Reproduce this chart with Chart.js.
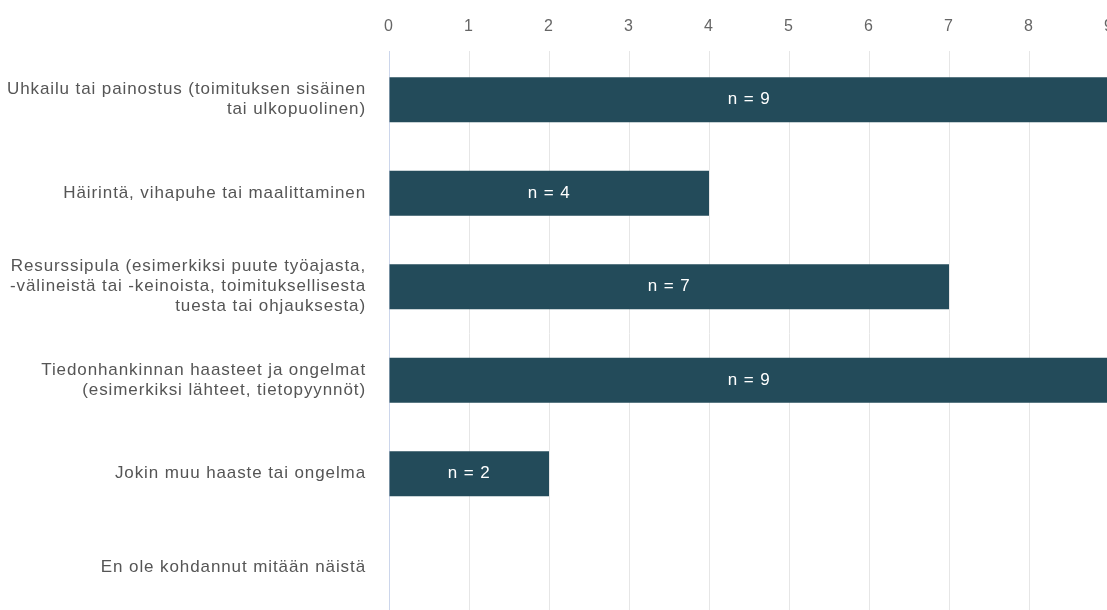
<!DOCTYPE html>
<html lang="fi">

<head>
    <meta charset="UTF-8" />
    <title>Haasteet</title>
    <script src="https://cdn.jsdelivr.net/npm/chart.js@4.4.0/dist/chart.umd.min.js"></script>
    <style>
        html, body { margin: 0; padding: 0; background: #fff; overflow: hidden; }
        #kaavio { position: absolute; left: 0; top: 0; }
    </style>
</head>

<body>
    <canvas id="kaavio" width="1130" height="630"></canvas>
<script>
// kategoriat (rivitetty kuten kuvassa)
var kategoriat = [
    ['Uhkailu tai painostus (toimituksen sisäinen', 'tai ulkopuolinen)'],
    'Häirintä, vihapuhe tai maalittaminen',
    ['Resurssipula (esimerkiksi puute työajasta,', '-välineistä tai -keinoista, toimituksellisesta', 'tuesta tai ohjauksesta)'],
    ['Tiedonhankinnan haasteet ja ongelmat', '(esimerkiksi lähteet, tietopyynnöt)'],
    'Jokin muu haaste tai ongelma',
    'En ole kohdannut mitään näistä'
];
var vastaajat = [9, 4, 7, 9, 2, 0];
var xTikit = [0, 1, 2, 3, 4, 5, 6, 7, 8, 9];

var fontti = '"Liberation Sans", Arial, sans-serif';

// kuvan teksti on hieman harvempaa kuin Arial
var harvennus = {
    id: 'harvennus',
    beforeUpdate: function (chart) { chart.ctx.letterSpacing = '0.9px'; },
    beforeDraw: function (chart) { chart.ctx.letterSpacing = '0.9px'; }
};

// n = x -tekstit palkkien keskelle
var nTekstit = {
    id: 'nTekstit',
    afterDatasetsDraw: function (chart) {
        var ctx = chart.ctx;
        var meta = chart.getDatasetMeta(0);
        ctx.save();
        ctx.fillStyle = '#ffffff';
        ctx.font = '17px ' + fontti;
        ctx.textAlign = 'center';
        ctx.textBaseline = 'middle';
        meta.data.forEach(function (palkki, i) {
            var arvo = vastaajat[i];
            if (!arvo) return;
            var keski = (palkki.x + palkki.base) / 2;
            ctx.fillText('n = ' + arvo, keski, palkki.y);
        });
        ctx.restore();
    }
};

var ctx = document.getElementById('kaavio').getContext('2d');
var kaavio = new Chart(ctx, {
    type: 'bar',
    data: {
        labels: kategoriat,
        datasets: [{
            data: vastaajat,
            backgroundColor: '#234b5a',
            borderWidth: 0,
            categoryPercentage: 1,
            barPercentage: 0.481
        }]
    },
    options: {
        indexAxis: 'y',
        responsive: false,
        animation: false,
        layout: { padding: { left: 0, right: 21, top: 0, bottom: 16 } },
        plugins: {
            legend: { display: false },
            tooltip: { enabled: false }
        },
        scales: {
            x: {
                position: 'top',
                min: 0,
                max: 9,
                afterBuildTicks: function (akseli) {
                    akseli.ticks = xTikit.map(function (v) { return { value: v }; });
                },
                afterFit: function (akseli) {
                    akseli.height = 53;
                    akseli.paddingLeft = 0;
                    akseli.paddingRight = 0;
                },
                border: { display: false },
                grid: {
                    color: function (c) { return c.tick && c.tick.value === 0 ? '#ccd6eb' : '#e6e6e6'; },
                    drawTicks: true,
                    tickLength: 2,
                    lineWidth: 1
                },
                ticks: {
                    color: '#666666',
                    font: { family: fontti, size: 16 },
                    padding: 15,
                    maxRotation: 0
                }
            },
            y: {
                afterFit: function (akseli) {
                    akseli.width = 389;
                    akseli.paddingTop = 0;
                    akseli.paddingBottom = 0;
                },
                border: { display: true, color: '#ccd6eb', width: 1 },
                grid: { display: false, drawTicks: false },
                ticks: {
                    color: '#555555',
                    font: { family: fontti, size: 17, lineHeight: 1.18 },
                    padding: 23,
                    crossAlign: 'near'
                }
            }
        }
    },
    plugins: [harvennus, nTekstit]
});
</script>
</body>

</html>
